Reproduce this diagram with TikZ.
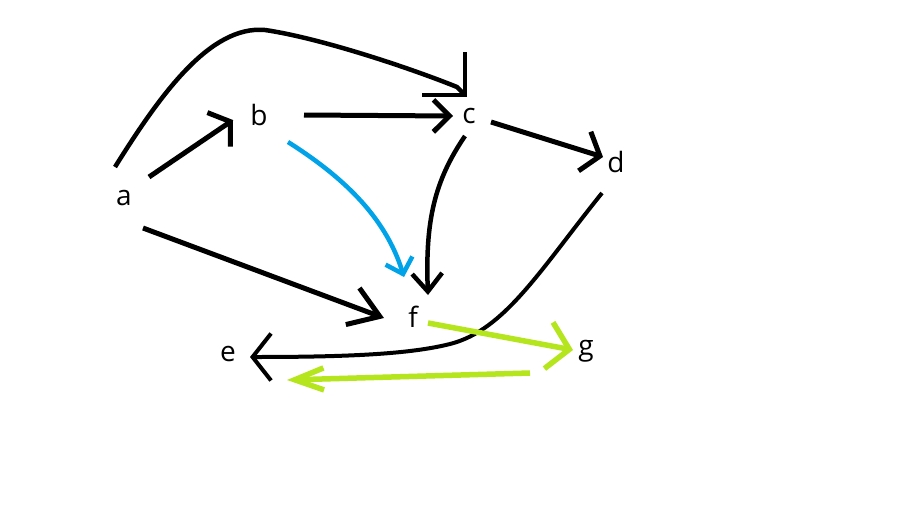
\documentclass[tikz,border=0pt]{standalone}
\usepackage{fontspec}
\setmainfont{Open Sans}
\usetikzlibrary{arrows.meta,calc}
\definecolor{paintblue}{RGB}{0,162,232}
\definecolor{paintgreen}{RGB}{181,230,29}
\tikzset{
  lbl/.style={inner sep=0pt, anchor=base, font=\fontsize{28}{30}\selectfont},
  conn/.style={draw=black, line width=5pt},
  bluec/.style={draw=paintblue, line width=4.5pt},
  greenc/.style={draw=paintgreen, line width=5.5pt},
}
\begin{document}
\begin{tikzpicture}[x=1pt,y=-1pt]
\fill[white] (0,0) rectangle (908,520);
\path[use as bounding box] (0,0) rectangle (908,520);

\node[lbl] (a) at (124,205) {a};
\node[lbl] (b) at (259,125) {b};
\node[lbl] (c) at (469,123) {c};
\node[lbl] (d) at (616,172) {d};
\node[lbl] (e) at (228,361) {e};
\node[lbl] (f) at (413,327) {f};
\node[lbl] (g) at (586,355) {g};

% a -> c (big arc)
\draw[conn, line width=4.5pt, -{Straight Barb[length=30pt,width=60pt]}]
  ($(a.base)+(-9,-38)$) .. controls (160,95) and (210,25) .. (265,30)
  .. controls (320,38) and (410,68) .. ($(c.base)+(-12,-36)$) -- ($(c.base)+(-2,-26)$);

% a -> b
\draw[conn, -{Straight Barb[length=14pt,width=41pt]}]
  ($(a.base)+(25,-28)$) -- ($(b.base)+(-26,-5)$);

% b -> c
\draw[conn, -{Straight Barb[length=16pt,width=32pt]}]
  ($(b.base)+(45,-10)$) -- ($(c.base)+(-16,-7)$);

% c -> d
\draw[conn, -{Straight Barb[length=16pt,width=41pt]}]
  ($(c.base)+(22,-1)$) -- ($(d.base)+(-13,-15)$);

% c -> f
\draw[conn, line width=4.5pt, -{Straight Barb[length=18pt,width=30pt]}]
  ($(c.base)+(-4,13)$) .. controls (435,180) and (425,220) .. ($(f.base)+(15,-32)$);

% b -> f (blue)
\draw[bluec, -{Straight Barb[length=14pt,width=28pt]}]
  ($(b.base)+(29,17)$) .. controls (340,175) and (385,215) .. ($(f.base)+(-9,-50)$);

% a -> f
\draw[conn, -{Straight Barb[length=29pt,width=39pt]}]
  ($(a.base)+(19,23)$) -- ($(f.base)+(-29,-9)$);

% d -> e
\draw[conn, line width=4pt, -{Straight Barb[length=18.5pt,width=47pt]}]
  ($(d.base)+(-14,21)$) .. controls (540,270) and (505,330) .. (450,344)
  .. controls (410,354) and (350,357) .. ($(e.base)+(22,-4)$);

% f -> g (green)
\draw[greenc, -{Straight Barb[length=21pt,width=47pt]}]
  ($(f.base)+(15,-4)$) -- ($(g.base)+(-13,-5)$);

% g -> e (green)
\draw[greenc, -{Straight Barb[length=29pt,width=22pt]}]
  ($(g.base)+(-56,18)$) -- ($(e.base)+(59,19)$);
\end{tikzpicture}
\end{document}
